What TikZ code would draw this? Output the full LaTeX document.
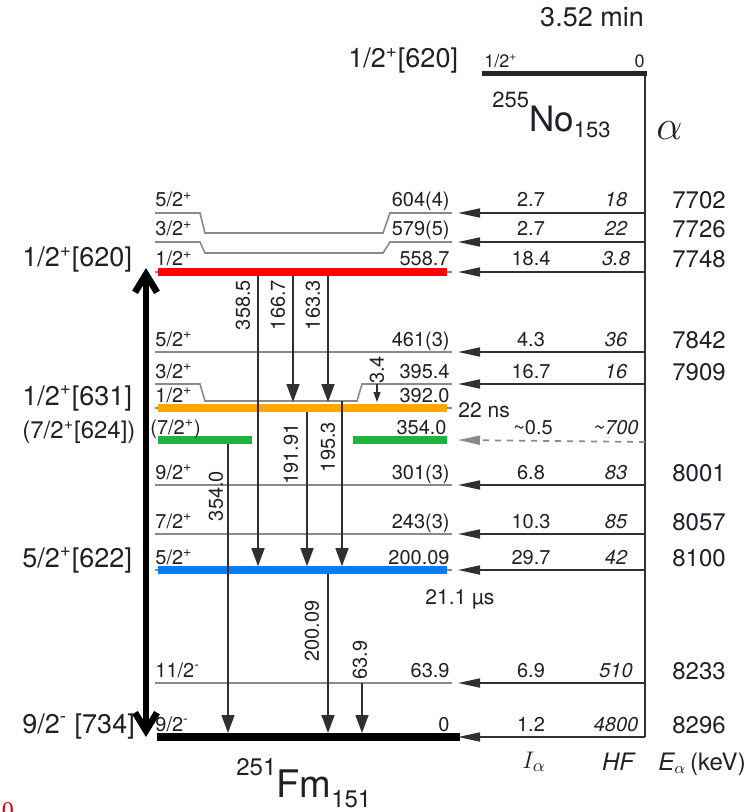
\documentclass[tikz,border=0pt]{standalone}
\usepackage{fontspec}
\setmainfont{TeX Gyre Heros}
\newfontfamily\markfont{Liberation Serif}
\usetikzlibrary{arrows.meta}
\definecolor{levelGray}{HTML}{8A8A8A}
\definecolor{lineDark}{HTML}{303030}
\definecolor{schemeText}{HTML}{20202A}
\definecolor{bandRed}{HTML}{FF0000}
\definecolor{bandOrange}{HTML}{FFA800}
\definecolor{bandGreen}{HTML}{1FB23E}
\definecolor{bandBlue}{HTML}{0A7CF5}

\begin{document}
\begin{tikzpicture}[x=0.5pt,y=-0.5pt,text=schemeText]
\tikzstyle{lvl}=[draw=levelGray,line width=0.8pt]
\tikzstyle{band}=[line width=3.8pt]
\tikzstyle{gam}=[draw=lineDark,line width=0.75pt,-{Triangle[length=9pt,width=6.5pt]}]
\tikzstyle{alf}=[draw=lineDark,line width=0.85pt,-{Triangle[length=11pt,width=4.5pt]}]
\tikzstyle{spin}=[anchor=base west,inner sep=0pt,yshift=3pt,font=\fontsize{10}{12}\selectfont]
\tikzstyle{energy}=[anchor=base east,inner sep=0pt,yshift=3pt,font=\fontsize{10}{12}\selectfont]
\tikzstyle{glabel}=[rotate=90,inner sep=0pt,font=\fontsize{10}{12}\selectfont]
\tikzstyle{nilsson}=[anchor=base west,inner sep=0pt,font=\fontsize{13.5}{16}\selectfont]
\tikzstyle{col}=[anchor=base,inner sep=0pt,yshift=3pt,font=\fontsize{10}{12}\selectfont]
\tikzstyle{ecol}=[anchor=base,inner sep=0pt,yshift=2pt,font=\fontsize{12}{14}\selectfont]
\useasboundingbox (0,0) rectangle (748,812);

% level heights
\foreach \l/\y in {lNo/74,l604/213,l604d/233,l579/242,l579d/253,l559/272,l461/352,l395/384,l395d/401,l392/408,l354/440,l301/485,l243/534,l200/570,l64/683,l0/737}
  {\coordinate (\l) at (0,\y);}

% parent
\node[font=\fontsize{13.5}{16}\selectfont,anchor=base,inner sep=0pt] (halflife) at (592,27) {3.52 min};
\node[nilsson] (nNo) at (348,68) {1/2\textsuperscript{+}[620]};
\node[anchor=base west,inner sep=0pt,font=\fontsize{9}{11}\selectfont] (spinNo) at (484,68) {1/2\textsuperscript{+}};
\node[anchor=base east,inner sep=0pt,font=\fontsize{9}{11}\selectfont] (eNo) at (645,68) {0};
\draw[line width=2.5pt,draw=black!85] (482,0 |- lNo) -- (647,0 |- lNo);
\draw[draw=lineDark,line width=0.85pt] (645,0 |- lNo) -- (645,0 |- l0);
\node[anchor=base west,inner sep=0pt,font=\fontsize{17.5}{20}\selectfont] (nuclNo) at (492,132)
  {\raisebox{12pt}{\fontsize{11}{13}\selectfont 255}No\raisebox{-3pt}{\fontsize{11}{13}\selectfont 153}};
\node[anchor=base west,inner sep=0pt,font=\fontsize{21}{24}\selectfont] (alphaMark) at (656,140) {$\alpha$};

% levels
\foreach \l in {l559,l461,l392,l301,l243,l200,l64}
  {\draw[lvl] (155,0 |- \l) -- (452,0 |- \l);}
\draw[lvl] (155,0 |- l604) -- (200,0 |- l604) -- (205,0 |- l604d) -- (383,0 |- l604d) -- (390,0 |- l604) -- (452,0 |- l604);
\draw[lvl] (155,0 |- l579) -- (200,0 |- l579) -- (205,0 |- l579d) -- (383,0 |- l579d) -- (390,0 |- l579) -- (452,0 |- l579);
\draw[lvl] (155,0 |- l395) -- (200,0 |- l395) -- (205,0 |- l395d) -- (357,0 |- l395d) -- (362,0 |- l395) -- (452,0 |- l395);
\draw[band,bandRed] (158,0 |- l559) -- (447,0 |- l559);
\draw[band,bandOrange] (158,0 |- l392) -- (447,0 |- l392);
\draw[band,bandGreen] (158,0 |- l354) -- (252,0 |- l354);
\draw[band,bandGreen] (353,0 |- l354) -- (447,0 |- l354);
\draw[band,bandBlue] (158,0 |- l200) -- (447,0 |- l200);
\draw[line width=4pt,black] (157,0 |- l0) -- (460,0 |- l0);

\foreach \l/\s/\e in {l604/{5/2\textsuperscript{+}}/604(4),l579/{3/2\textsuperscript{+}}/579(5),l559/{1/2\textsuperscript{+}}/558.7,
  l461/{5/2\textsuperscript{+}}/461(3),l395/{3/2\textsuperscript{+}}/395.4,l392/{1/2\textsuperscript{+}}/392.0,
  l301/{9/2\textsuperscript{+}}/301(3),l243/{7/2\textsuperscript{+}}/243(3),l200/{5/2\textsuperscript{+}}/200.09,
  l64/{11/2\textsuperscript{-}}/63.9,l0/{9/2\textsuperscript{-}}/0}
  {\node[spin] (s\l) at (155,0 |- \l) {\s};
   \node[energy] (e\l) at (450,0 |- \l) {\e};}
\node[spin] (sl354) at (150,0 |- l354) {(7/2\textsuperscript{+})};
\node[energy] (el354) at (447,0 |- l354) {354.0};
\node[anchor=base west,inner sep=0pt,font=\fontsize{10.5}{12}\selectfont] (t392) at (458,417) {22 ns};
\node[anchor=base west,inner sep=0pt,font=\fontsize{10.5}{12}\selectfont] (t200) at (425,604) {21.1 µs};

% gamma transitions
\draw[gam,shorten <=1.9pt,shorten >=1.9pt] (258,0 |- l559) -- (258,0 |- l200);
\draw[gam,shorten <=1.9pt,shorten >=3pt] (293,0 |- l559) -- (293,0 |- l392);
\draw[gam,shorten <=1.9pt,shorten >=3pt] (328,0 |- l559) -- (328,0 |- l392);
\draw[draw=lineDark,line width=0.6pt,-{Triangle[length=5pt,width=3.5pt]},shorten >=3pt] (377,0 |- l395) -- (377,0 |- l392);
\draw[gam,shorten <=1.9pt,shorten >=1.9pt] (307,0 |- l392) -- (307,0 |- l200);
\draw[gam,shorten >=1.9pt] (342,0 |- l395d) -- (342,0 |- l200);
\draw[gam,shorten <=1.9pt,shorten >=2pt] (228,0 |- l354) -- (228,0 |- l0);
\draw[gam,shorten <=1.9pt,shorten >=2pt] (328,0 |- l200) -- (328,0 |- l0);
\draw[gam,shorten >=2pt] (362,0 |- l64) -- (362,0 |- l0);
\node[glabel] (g358) at (243,305) {358.5};
\node[glabel] (g166) at (278,305) {166.7};
\node[glabel] (g163) at (313,305) {163.3};
\node[glabel] (g3) at (377,370) {3.4};
\node[glabel] (g191) at (291,454) {191.91};
\node[glabel] (g195) at (328,447) {195.3};
\node[glabel] (g354) at (216,496) {354.0};
\node[glabel] (g200) at (312,631) {200.09};
\node[glabel] (g63) at (360,660) {63.9};

% alpha feeding
\foreach \l/\i/\h/\e in {l604/2.7/18/7702,l579/2.7/22/7726,l559/18.4/3.8/7748,l461/4.3/36/7842,l395/16.7/16/7909,
  l301/6.8/83/8001,l243/10.3/85/8057,l200/29.7/42/8100,l64/6.9/510/8233,l0/1.2/4800/8296}
  {\draw[alf] (645,0 |- \l) -- (458,0 |- \l);
   \node[col] (i\e) at (531,0 |- \l) {\i};
   \node[col,font=\fontsize{10}{12}\selectfont\itshape] (h\e) at (616,0 |- \l) {\h};
   \node[ecol] (a\e) at (699,0 |- \l) {\e};}
\draw[alf,dashed,draw=levelGray] (645,442) -- (458,0 |- l354);
\node[col] (i354) at (533,0 |- l354) {\textasciitilde0.5};
\node[col,font=\fontsize{10}{12}\selectfont\itshape] (h354) at (616,0 |- l354) {\textasciitilde700};

\node[anchor=base,inner sep=0pt,font=\fontsize{12.5}{14}\selectfont] (hdI) at (534,768) {$I_\alpha$};
\node[anchor=base,inner sep=0pt,font=\fontsize{12}{14}\selectfont\itshape] (hdHF) at (618,770) {HF};
\node[anchor=base,inner sep=0pt,font=\fontsize{12}{14}\selectfont] (hdE) at (702,770) {{\itshape E}$_\alpha$\,(keV)};

% Nilsson labels
\node[nilsson] (n620) at (22,267) {1/2\textsuperscript{+}[620]};
\node[nilsson] (n631) at (22,405) {1/2\textsuperscript{+}[631]};
\node[nilsson,font=\fontsize{12}{14}\selectfont] (n624) at (22,438) {(7/2\textsuperscript{+}[624])};
\node[nilsson] (n622) at (22,567) {5/2\textsuperscript{+}[622]};
\node[nilsson] (n734) at (22,733) {9/2\textsuperscript{-} [734]};
\draw[line width=3.3pt,{Straight Barb[length=9pt,width=11pt]}-{Straight Barb[length=9pt,width=11pt]},shorten >=-2pt] (146,0 |- l0) -- (146,0 |- l559);

\node[anchor=base west,inner sep=0pt,font=\fontsize{19}{22}\selectfont] (nuclFm) at (236,797)
  {\raisebox{11pt}{\fontsize{12}{14}\selectfont 251}Fm\raisebox{-5pt}{\fontsize{12}{14}\selectfont 151}};
\node[anchor=north,inner sep=0pt,text=red!85!black,font=\markfont\fontsize{12}{14}\selectfont] (pagemark) at (8,802) {0};
\end{tikzpicture}
\end{document}
